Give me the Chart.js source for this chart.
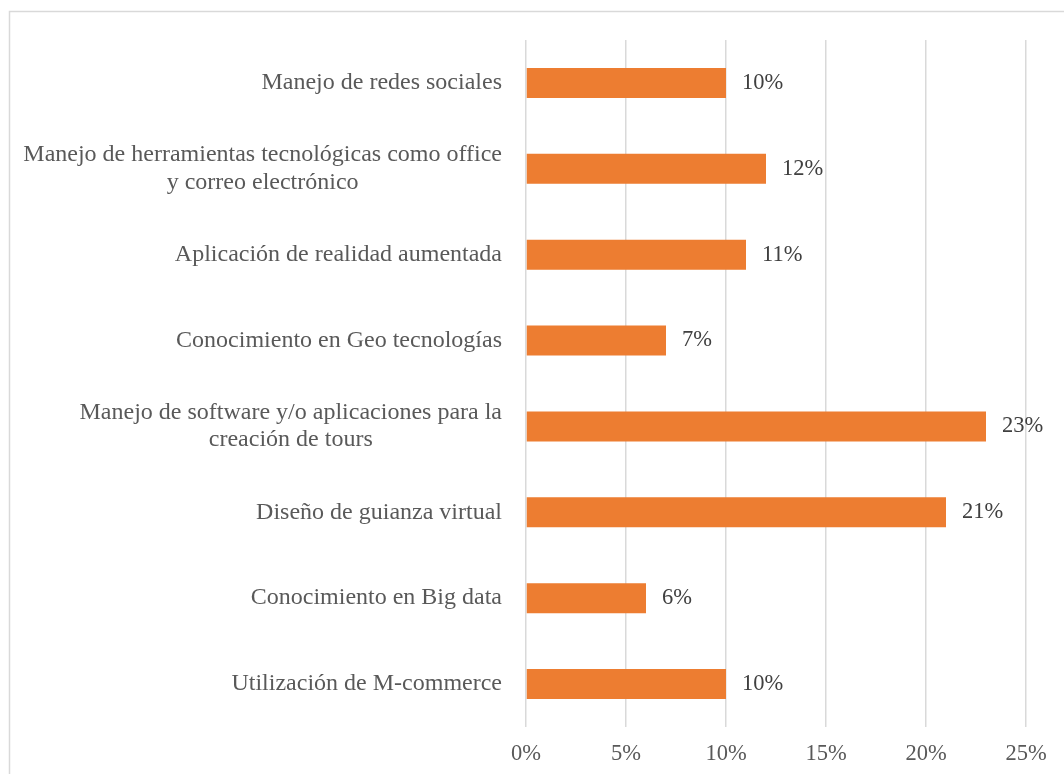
<!DOCTYPE html>
<html>
<head>
  <meta charset="UTF-8">
  <title>Competencias tecnológicas</title>
  <script src="https://cdn.jsdelivr.net/npm/chart.js"></script>
  <style>
    html, body { margin: 0; padding: 0; background: #fff; }
    #wrap { width: 1064px; height: 774px; }
  </style>
</head>
<body>
  <div id="wrap"><canvas id="chart" width="1064" height="774"></canvas></div>

  <script>
    // categorías (líneas de cada etiqueta) y porcentajes
    const categories = [
      ['Manejo de redes sociales'],
      ['Manejo de herramientas tecnológicas como office', 'y correo electrónico'],
      ['Aplicación de realidad aumentada'],
      ['Conocimiento en Geo tecnologías'],
      ['Manejo de software y/o aplicaciones para la', 'creación de tours'],
      ['Diseño de guianza virtual'],
      ['Conocimiento en Big data'],
      ['Utilización de M-commerce']
    ];
    const shares = [10, 12, 11, 7, 23, 21, 6, 10];
    const xTicks = [0, 5, 10, 15, 20, 25];

    const FONT = '"Liberation Serif", "Times New Roman", serif';
    const BAR = '#ED7D31';
    const GRID = '#D9D9D9';

    // marco gris del área del gráfico
    const frame = {
      id: 'frame',
      beforeDraw(chart) {
        const ctx = chart.ctx;
        ctx.save();
        ctx.strokeStyle = GRID;
        ctx.lineWidth = 1.5;
        ctx.beginPath();
        ctx.moveTo(9.5, chart.height);
        ctx.lineTo(9.5, 11.5);
        ctx.lineTo(chart.width, 11.5);
        ctx.stroke();
        ctx.restore();
      }
    };

    // etiquetas de categoría centradas línea a línea + valores al final de cada barra
    const labelsPlugin = {
      id: 'labelsPlugin',
      afterDraw(chart) {
        const ctx = chart.ctx;
        const yScale = chart.scales.y;
        const labelRight = 502;
        const lineH = 27.5;
        ctx.save();
        ctx.font = '24px ' + FONT;
        ctx.fillStyle = '#595959';
        ctx.textAlign = 'center';
        ctx.textBaseline = 'middle';
        categories.forEach((lines, i) => {
          const cy = yScale.getPixelForValue(i);
          const widest = Math.max(...lines.map(l => ctx.measureText(l).width));
          const cx = labelRight - widest / 2;
          lines.forEach((l, j) => {
            ctx.fillText(l, cx, cy + (j - (lines.length - 1) / 2) * lineH);
          });
        });

        ctx.font = '22.5px ' + FONT;
        ctx.fillStyle = '#404040';
        ctx.textAlign = 'left';
        chart.getDatasetMeta(0).data.forEach((bar, i) => {
          ctx.fillText(shares[i] + '%', bar.x + 16, bar.y);
        });
        ctx.restore();
      }
    };

    new Chart(document.getElementById('chart'), {
      type: 'bar',
      data: {
        labels: categories,
        datasets: [{
          data: shares,
          backgroundColor: BAR,
          borderWidth: 0,
          barPercentage: 0.35,
          categoryPercentage: 1
        }]
      },
      options: {
        indexAxis: 'y',
        responsive: false,
        animation: false,
        devicePixelRatio: 1,
        layout: { padding: { top: 40, right: 38, left: 0, bottom: 0 } },
        plugins: {
          legend: { display: false },
          tooltip: { enabled: false }
        },
        scales: {
          x: {
            min: 0,
            max: 25,
            afterBuildTicks(scale) {
              scale.ticks = xTicks.map(v => ({ value: v }));
            },
            afterFit(scale) { scale.height = 47; },
            grid: { color: GRID, lineWidth: 1.5, drawTicks: false },
            border: { display: false },
            ticks: {
              padding: 14,
              color: '#595959',
              font: { family: FONT, size: 22.5 },
              callback: v => v + '%'
            }
          },
          y: {
            afterFit(scale) { scale.width = 526; },
            grid: { display: false },
            border: { display: false },
            ticks: { display: false }
          }
        }
      },
      plugins: [frame, labelsPlugin]
    });
  </script>
</body>
</html>
